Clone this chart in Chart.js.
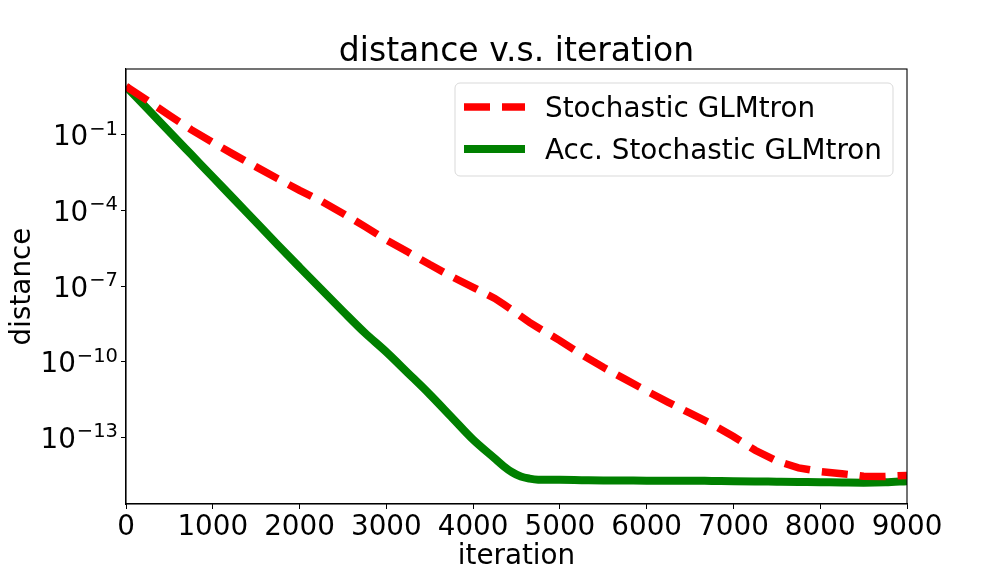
<!DOCTYPE html>
<html>
<head>
<meta charset="utf-8">
<script src="https://cdn.jsdelivr.net/npm/chart.js@4/dist/chart.umd.min.js"></script>
<style>
  html, body { margin: 0; padding: 0; background: #fff; }
  #wrap { width: 1008px; height: 576px; }
</style>
</head>
<body>
<div id="wrap"><canvas id="chart" width="1008" height="576"></canvas></div>
<script>
// values
var iterations = [0, 250, 500, 750, 1000, 1250, 1500, 1750, 2000, 2250, 2500, 2750, 3000, 3250, 3500, 3750,
    4000, 4250, 4350, 4450, 4550, 4650, 4750, 5000, 5250, 5500, 5750, 6000, 6250, 6500, 6750, 7000, 7250,
    7500, 7750, 8000, 8250, 8500, 8750, 9000];
var sgdDistance = [8.5, 2.3, 6.0e-1, 1.62e-1, 5.0e-2, 1.62e-2, 5.4e-3, 1.82e-3, 6.3e-4, 2.34e-4, 7.6e-5,
    2.34e-5, 6.8e-6, 2.24e-6, 7.1e-7, 2.4e-7, 8.9e-8, 3.2e-8, 1.9e-8, 1.12e-8, 6.3e-9, 3.6e-9, 2.2e-9,
    6.8e-10, 1.9e-10, 5.9e-11, 2.0e-11, 6.8e-12, 2.4e-12, 8.9e-13, 3.3e-13, 1.05e-13, 3.0e-14, 1.12e-14,
    6.0e-15, 4.3e-15, 3.5e-15, 2.8e-15, 2.75e-15, 3.0e-15];
var accDistance = [8.5, 1.07, 1.35e-1, 1.7e-2, 2.14e-3, 2.7e-4, 3.4e-5, 4.3e-6, 5.6e-7, 7.4e-8, 1.0e-8,
    1.41e-9, 2.4e-10, 3.5e-11, 5.0e-12, 6.3e-13, 7.9e-14, 1.41e-14, 7.1e-15, 4.0e-15, 2.7e-15, 2.24e-15,
    2.04e-15, 2.0e-15, 1.95e-15, 1.9e-15, 1.88e-15, 1.86e-15, 1.86e-15, 1.86e-15, 1.82e-15, 1.78e-15,
    1.74e-15, 1.7e-15, 1.66e-15, 1.62e-15, 1.58e-15, 1.55e-15, 1.6e-15, 1.78e-15];
var seriesNames = ['Stochastic GLMtron', 'Acc. Stochastic GLMtron'];
var xTicks = [0, 1000, 2000, 3000, 4000, 5000, 6000, 7000, 8000, 9000];
var yTicks = [1e-1, 1e-4, 1e-7, 1e-10, 1e-13];
var yTickExps = ['\u22121', '\u22124', '\u22127', '\u221210', '\u221213'];

var FONT = 'DejaVu Sans';

function pts(ys) {
    return iterations.map(function (x, i) { return {x: x, y: ys[i]}; });
}

// frame around the plot area
var framePlugin = {
    id: 'frame',
    afterDatasetsDraw: function (chart) {
        var a = chart.chartArea, ctx = chart.ctx;
        ctx.save();
        ctx.strokeStyle = '#000';
        ctx.lineWidth = 1.1;
        ctx.strokeRect(a.left, a.top, a.right - a.left, a.bottom - a.top);
        ctx.restore();
    }
};

// "10" with a raised exponent, like the original tick labels
var yLabelPlugin = {
    id: 'yLabels',
    afterDraw: function (chart) {
        var ctx = chart.ctx, ys = chart.scales.y;
        ctx.save();
        ctx.fillStyle = '#000';
        ctx.textBaseline = 'alphabetic';
        yTicks.forEach(function (v, i) {
            var py = ys.getPixelForValue(v);
            ctx.font = '19.5px "' + FONT + '"';
            var ew = ctx.measureText(yTickExps[i]).width;
            var right = 118;
            ctx.textAlign = 'right';
            ctx.fillText(yTickExps[i], right, py);
            ctx.font = '27.8px "' + FONT + '"';
            ctx.fillText('10', right - ew - 1, py + 10.5);
        });
        ctx.restore();
    }
};

// legend inside the plot, upper right
var legendPlugin = {
    id: 'boxLegend',
    afterDraw: function (chart) {
        var ctx = chart.ctx;
        ctx.save();
        var x0 = 455, y0 = 83, w = 438, h = 93, r = 5;
        ctx.beginPath();
        ctx.moveTo(x0 + r, y0);
        ctx.arcTo(x0 + w, y0, x0 + w, y0 + h, r);
        ctx.arcTo(x0 + w, y0 + h, x0, y0 + h, r);
        ctx.arcTo(x0, y0 + h, x0, y0, r);
        ctx.arcTo(x0, y0, x0 + w, y0, r);
        ctx.closePath();
        ctx.fillStyle = 'rgba(255,255,255,0.8)';
        ctx.fill();
        ctx.strokeStyle = '#d9d9d9';
        ctx.lineWidth = 1;
        ctx.stroke();
        var rows = [107, 149];
        chart.data.datasets.forEach(function (ds, i) {
            var y = rows[i];
            ctx.beginPath();
            ctx.setLineDash(ds.borderDash || []);
            ctx.lineCap = 'butt';
            ctx.lineWidth = ds.borderWidth;
            ctx.strokeStyle = ds.borderColor;
            ctx.moveTo(464, y);
            ctx.lineTo(525, y);
            ctx.stroke();
            ctx.setLineDash([]);
            ctx.fillStyle = '#000';
            ctx.font = '27.8px "' + FONT + '"';
            ctx.textAlign = 'left';
            ctx.textBaseline = 'alphabetic';
            ctx.fillText(ds.label, 545, y + 10);
        });
        ctx.restore();
    }
};

new Chart(document.getElementById('chart'), {
    type: 'line',
    data: {
        datasets: [{
            label: seriesNames[0],
            data: pts(sgdDistance),
            borderColor: '#ff0000',
            borderWidth: 7.5,
            borderDash: [26, 12],
            borderCapStyle: 'butt',
            pointRadius: 0,
            tension: 0
        }, {
            label: seriesNames[1],
            data: pts(accDistance),
            borderColor: '#008000',
            borderWidth: 8,
            pointRadius: 0,
            cubicInterpolationMode: 'monotone'
        }]
    },
    options: {
        responsive: false,
        animation: false,
        layout: {padding: {left: 0, right: 101, top: 0, bottom: 0}},
        plugins: {
            legend: {display: false},
            tooltip: {enabled: false},
            title: {
                display: true,
                text: 'distance v.s. iteration',
                color: '#000',
                fullSize: false,
                font: {family: FONT, size: 33, weight: 'normal', lineHeight: 1},
                padding: {top: 36, bottom: 0}
            }
        },
        scales: {
            x: {
                type: 'linear',
                min: 0,
                max: 9000,
                afterBuildTicks: function (s) { s.ticks = xTicks.map(function (v) { return {value: v}; }); },
                afterFit: function (s) { s.height = 72; },
                grid: {display: true, drawOnChartArea: false, drawTicks: true, tickLength: 5, color: '#000'},
                border: {display: true, color: '#000', width: 1.1},
                ticks: {
                    color: '#000',
                    font: {family: FONT, size: 27.8},
                    padding: 2,
                    maxRotation: 0,
                    autoSkip: false,
                    callback: function (v) { return String(v); }
                },
                title: {
                    display: true,
                    text: 'iteration',
                    color: '#000',
                    font: {family: FONT, size: 27.8},
                    padding: {top: 0, bottom: 3}
                }
            },
            y: {
                type: 'logarithmic',
                min: 2.2e-16,
                max: 41.7,
                afterBuildTicks: function (s) { s.ticks = yTicks.map(function (v) { return {value: v}; }); },
                afterFit: function (s) { s.width = 126; },
                grid: {display: true, drawOnChartArea: false, drawTicks: true, tickLength: 5, color: '#000'},
                border: {display: true, color: '#000', width: 1.1},
                ticks: {
                    color: '#000',
                    font: {family: FONT, size: 27.8},
                    autoSkip: false,
                    callback: function () { return ''; }
                },
                title: {
                    display: true,
                    text: 'distance',
                    color: '#000',
                    font: {family: FONT, size: 27.8},
                    padding: {top: 6, bottom: 0}
                }
            }
        }
    },
    plugins: [framePlugin, yLabelPlugin, legendPlugin]
});
</script>
</body>
</html>
